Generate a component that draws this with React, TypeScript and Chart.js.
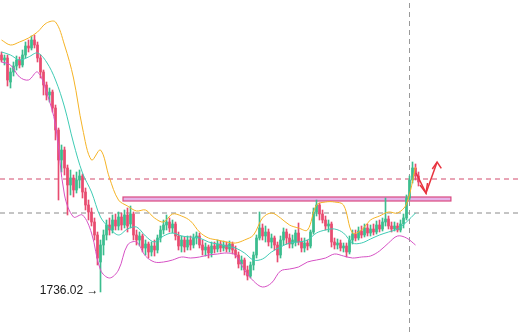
import React, { useEffect, useRef } from "react";
import { Chart, registerables } from "chart.js";

Chart.register(...registerables);

// ---- candle data (price) ----
const candleOpen = [
  1854.5, 1852, 1853, 1841, 1846, 1849, 1852, 1849.5, 1854.5, 1859,
  1858, 1862, 1859.5, 1853, 1846, 1839.5, 1834.5, 1836, 1828, 1817,
  1802, 1807, 1798, 1789.5, 1793, 1787, 1792, 1794, 1786, 1779.5,
  1776, 1771, 1764.5, 1751, 1759.5, 1764.5, 1769.5, 1767, 1772, 1769,
  1773.5, 1769.5, 1774.5, 1770, 1775, 1764.5, 1762, 1764, 1758, 1760,
  1756, 1759, 1757, 1763, 1767, 1769.5, 1771, 1768, 1770, 1764,
  1759, 1762, 1758.5, 1762, 1759.5, 1763, 1764, 1759.5, 1757, 1758.5,
  1755.5, 1759, 1757.5, 1760, 1758, 1759.5, 1757.5, 1760, 1757, 1754.5,
  1750, 1752, 1747, 1744, 1749.5, 1754.5, 1763, 1768, 1764, 1766,
  1761, 1763, 1759.5, 1754.5, 1762, 1766, 1763, 1760, 1761, 1765.5,
  1761, 1758, 1760.5, 1759, 1766, 1776, 1779.5, 1775, 1772, 1769,
  1770, 1761, 1759.5, 1760.5, 1758, 1759, 1756, 1762, 1765, 1763,
  1766.5, 1764.5, 1768, 1765.5, 1767.5, 1766, 1769.5, 1767.5, 1771, 1772.5,
  1769, 1767.5, 1769, 1767, 1770, 1773, 1783, 1792, 1798, 1794,
];
const candleHigh = [
  1856, 1854.5, 1854.5, 1848, 1851, 1854, 1853.5, 1857, 1861, 1862,
  1864, 1864.5, 1861, 1854.5, 1847, 1841, 1838, 1837, 1829.5, 1818,
  1809.5, 1808.5, 1799.5, 1797, 1794.5, 1796, 1797, 1795, 1788, 1782,
  1778, 1773, 1766, 1762, 1767, 1772, 1773, 1774.5, 1775, 1776,
  1775.5, 1777, 1778, 1779, 1776, 1767, 1766, 1765, 1762, 1761,
  1761, 1762, 1764.5, 1769, 1772, 1774.5, 1773, 1772, 1771, 1766,
  1764, 1763.5, 1764, 1764, 1765, 1766, 1765.5, 1762, 1760.5, 1759.5,
  1761, 1761, 1762, 1761.5, 1761.5, 1761, 1761.5, 1761, 1759, 1756,
  1754, 1753, 1749, 1751, 1756, 1764.5, 1776, 1770, 1769, 1767.5,
  1765, 1764, 1761, 1764, 1768, 1767.5, 1765, 1764.5, 1767, 1770.5,
  1763, 1763, 1762, 1767, 1778, 1782, 1780.5, 1777, 1774, 1772,
  1771, 1763, 1762.5, 1762, 1760.5, 1760.5, 1764, 1767, 1767, 1768.5,
  1769, 1770, 1770, 1769.5, 1770, 1771.5, 1772, 1773, 1783, 1774,
  1771, 1771, 1770.5, 1772, 1775, 1784.5, 1794, 1801, 1800, 1796,
];
const candleLow = [
  1851, 1849.5, 1839, 1838, 1844, 1847, 1848, 1848.5, 1853, 1856,
  1857, 1858, 1851, 1843, 1834.5, 1832, 1831, 1826, 1812, 1782,
  1796, 1794.5, 1774.5, 1784.5, 1783.5, 1785.5, 1788, 1783, 1777, 1772,
  1769, 1762, 1749.5, 1736.02, 1754.5, 1762, 1764.5, 1765.5, 1767, 1767,
  1767, 1768, 1766, 1768, 1762, 1759.5, 1759, 1756, 1754.5, 1753,
  1754, 1754, 1755.5, 1761, 1765, 1767, 1766, 1765.5, 1762, 1757,
  1756, 1756, 1757, 1757, 1758, 1760, 1758, 1754.5, 1754, 1753,
  1753.5, 1755.5, 1756, 1756, 1756.5, 1756, 1756, 1755, 1753, 1748,
  1747, 1744.5, 1742, 1743, 1747, 1753, 1762, 1762, 1761, 1759,
  1758, 1757, 1751, 1753, 1759.5, 1760, 1758, 1758, 1759, 1759.5,
  1756, 1756, 1757, 1758, 1765, 1774, 1772, 1770.5, 1767, 1766,
  1758.5, 1757.5, 1757.5, 1756.5, 1756, 1753.5, 1755, 1760, 1761.5, 1762,
  1763, 1763.5, 1764, 1764, 1764.5, 1765, 1766, 1766.5, 1769, 1767.5,
  1766, 1766.5, 1766, 1766, 1768, 1772, 1782, 1790.5, 1792, 1789,
];
const candleClose = [
  1852, 1853, 1842, 1846, 1849, 1852, 1849.5, 1854.5, 1859, 1858,
  1862, 1859.5, 1853, 1846, 1839.5, 1834.5, 1836, 1828, 1817, 1802,
  1807, 1798, 1789.5, 1793, 1787, 1792, 1794, 1786, 1779.5, 1776,
  1771, 1764.5, 1753, 1759.5, 1764.5, 1769.5, 1767, 1772, 1769, 1773.5,
  1769.5, 1774.5, 1769, 1775, 1764.5, 1762, 1764, 1758, 1760, 1756,
  1759, 1757, 1763, 1767, 1769.5, 1771, 1768, 1770, 1764, 1759,
  1762, 1758.5, 1762, 1759.5, 1763, 1764, 1759.5, 1757, 1758.5, 1755.5,
  1759, 1757.5, 1760, 1758, 1759.5, 1757.5, 1760, 1757, 1754.5, 1750,
  1752, 1747, 1744, 1749.5, 1754.5, 1763, 1768, 1764, 1766, 1761,
  1763, 1759.5, 1754.5, 1762, 1766, 1763, 1760, 1762, 1765.5, 1761,
  1758, 1760.5, 1759, 1766, 1776, 1779.5, 1775, 1772, 1769, 1770,
  1761, 1759.5, 1760.5, 1758, 1759, 1756, 1762, 1765, 1763, 1766.5,
  1764.5, 1768, 1765.5, 1767.5, 1766, 1769.5, 1767.5, 1771, 1772.5, 1769,
  1767.5, 1769, 1767, 1770, 1773, 1783, 1792, 1798, 1794, 1791,
];

// ---- Bollinger band readings (sampled) ----
const bandIndex = [
  0, 3, 6, 9, 12, 15, 18, 21, 24, 27, 30, 33, 36, 39, 42, 45, 48, 51, 54, 57,
  60, 63, 66, 69, 72, 75, 78, 81, 84, 87, 90, 93, 96, 99, 102, 105, 108, 111,
  114, 117, 120, 123, 126, 129, 132, 135, 138,
];
const upperBand = [
  1862, 1859.5, 1861, 1863, 1866, 1870.5, 1871, 1859.5, 1843, 1818,
  1802, 1807, 1793, 1782, 1779, 1776.5, 1777, 1773, 1771, 1775,
  1774, 1771.5, 1766, 1763, 1762, 1761, 1760.5, 1762, 1764.5, 1773,
  1775.5, 1773, 1769.5, 1768, 1767, 1779.5, 1781, 1781, 1779.5, 1765.5,
  1767, 1772, 1774, 1776, 1775.5, 1780, 1798.5,
];
const middleBand = [
  1856, 1854.5, 1852, 1853.5, 1855.5, 1851, 1842, 1828.5, 1810.5, 1795.5,
  1786, 1773.5, 1768, 1764.5, 1767.5, 1768.5, 1764, 1761, 1764, 1765.5,
  1764, 1763.5, 1763, 1761, 1760, 1759, 1758, 1755.5, 1752, 1752.5,
  1756, 1758.5, 1760.5, 1761, 1762, 1765.5, 1767, 1767.5, 1765.5, 1760.5,
  1760.5, 1762.5, 1764.5, 1766, 1767.5, 1771, 1775.5,
];
const lowerBand = [
  1851, 1849.5, 1843.5, 1842, 1846, 1836, 1819.5, 1784.5, 1773.5, 1774.5,
  1765.5, 1747, 1743, 1747, 1759.5, 1761, 1754, 1751, 1751, 1752,
  1753.5, 1753, 1753.5, 1754.5, 1755, 1755.5, 1754.5, 1747, 1741.5, 1738.5,
  1740.5, 1746.5, 1747.5, 1748.5, 1751, 1752, 1753, 1755, 1754, 1753,
  1753.5, 1754, 1756.5, 1760.5, 1764, 1763, 1759.5,
];

// ---- levels & annotations ----
const resistanceLevel = 1792.5;
const supportLevel = 1775.5;
const zoneTop = 1783.5;
const zoneBottom = 1781.5;
const zoneStart = 40.5;
const zoneEnd = 149.8;
const markerIndex = 136;
const lowIndex = 33;
const lowLabel = "1736.02 →";
const arrowPathX = [138.2, 141.5, 145.2];
const arrowPathY = [1795.5, 1785.5, 1801];
const arrowHeadBottomX = [139.5, 141.5, 142.0];
const arrowHeadBottomY = [1789.5, 1785.5, 1790.5];
const arrowHeadTopX = [143.6, 145.2, 146.6];
const arrowHeadTopY = [1797.5, 1801, 1797.8];

const X_MIN = -0.5;
const X_MAX = 172.83;
const Y_MIN = 1716;
const Y_MAX = 1882;

const UP = "#3bbd8e";
const DOWN = "#e84c70";

export default function App() {
  const ref = useRef<HTMLCanvasElement | null>(null);

  useEffect(() => {
    if (!ref.current) return;
    const colors = candleClose.map((c, i) => (c >= candleOpen[i] ? UP : DOWN));
    const wicks = candleHigh.map((h, i) => ({ x: i, y: [candleLow[i], h] }));
    const bodies = candleOpen.map((o, i) => ({ x: i, y: [o, candleClose[i]] }));
    const band = (arr: number[]) => arr.map((v, k) => ({ x: bandIndex[k], y: v }));
    const pts = (xs: number[], ys: number[]) => xs.map((x, k) => ({ x, y: ys[k] }));

    const zonePlugin = {
      id: "zone",
      beforeDatasetsDraw(chart: any) {
        const { ctx, scales } = chart;
        const x0 = scales.x.getPixelForValue(zoneStart);
        const x1 = scales.x.getPixelForValue(zoneEnd);
        const y0 = scales.y.getPixelForValue(zoneTop);
        const y1 = scales.y.getPixelForValue(zoneBottom);
        ctx.save();
        ctx.fillStyle = "#e6b3e8";
        ctx.fillRect(x0, y0, x1 - x0, y1 - y0);
        ctx.strokeStyle = "#da4a80";
        ctx.lineWidth = 1.2;
        ctx.strokeRect(x0, y0, x1 - x0, y1 - y0);
        ctx.restore();
      },
      afterDatasetsDraw(chart: any) {
        const { ctx, scales } = chart;
        const x = scales.x.getPixelForValue(lowIndex) - 2;
        const y = scales.y.getPixelForValue(candleLow[lowIndex]) - 1;
        ctx.save();
        ctx.font = "12px 'Liberation Sans', Arial, sans-serif";
        ctx.fillStyle = "#1a1a1a";
        ctx.textAlign = "right";
        ctx.textBaseline = "middle";
        ctx.fillText(lowLabel, x, y);
        ctx.restore();
      },
    };

    const lineBase = {
      type: "line" as const,
      pointRadius: 0,
      borderWidth: 1,
      fill: false,
    };

    const chart = new Chart(ref.current, {
      type: "bar",
      data: {
        datasets: [
          { ...lineBase, data: band(upperBand), borderColor: "#f5b325", tension: 0.35, order: 0 } as any,
          { ...lineBase, data: band(middleBand), borderColor: "#3fcbb4", tension: 0.35, order: 0 } as any,
          { ...lineBase, data: band(lowerBand), borderColor: "#d651c4", tension: 0.35, order: 0 } as any,
          { ...lineBase, data: pts(arrowPathX, arrowPathY), borderColor: "#e8343f", borderWidth: 1.5, order: 0 } as any,
          { ...lineBase, data: pts(arrowHeadBottomX, arrowHeadBottomY), borderColor: "#e8343f", borderWidth: 1.5, order: 0 } as any,
          { ...lineBase, data: pts(arrowHeadTopX, arrowHeadTopY), borderColor: "#e8343f", borderWidth: 1.5, order: 0 } as any,
          {
            type: "bar",
            data: bodies as any,
            backgroundColor: colors,
            barThickness: 2,
            grouped: false,
            borderWidth: 0,
            minBarLength: 1,
            order: 1,
          } as any,
          {
            type: "bar",
            data: wicks as any,
            backgroundColor: colors,
            barThickness: 1,
            grouped: false,
            borderWidth: 0,
            order: 2,
          } as any,
          { ...lineBase, data: [{ x: X_MIN, y: resistanceLevel }, { x: X_MAX, y: resistanceLevel }], borderColor: "#d24a6c", borderDash: [5, 4], order: 3 } as any,
          { ...lineBase, data: [{ x: X_MIN, y: supportLevel }, { x: X_MAX, y: supportLevel }], borderColor: "#8a8a8a", borderDash: [5, 4], order: 3 } as any,
          { ...lineBase, data: [{ x: markerIndex, y: Y_MIN }, { x: markerIndex, y: Y_MAX }], borderColor: "#999999", borderDash: [5, 4], order: 3 } as any,
        ],
      },
      options: {
        animation: false,
        responsive: false,
        devicePixelRatio: 1,
        layout: { padding: 0 },
        plugins: { legend: { display: false }, tooltip: { enabled: false } },
        scales: {
          x: { type: "linear", min: X_MIN, max: X_MAX, display: false, offset: false, grid: { display: false } },
          y: { type: "linear", min: Y_MIN, max: Y_MAX, display: false, grid: { display: false } },
        },
      } as any,
      plugins: [zonePlugin],
    });
    return () => chart.destroy();
  }, []);

  return (
    <div style={{ position: "absolute", left: 0, top: 0, width: 520, height: 332, background: "#fff" }}>
      <canvas ref={ref} width={520} height={332} style={{ display: "block", width: 520, height: 332 }} />
    </div>
  );
}
